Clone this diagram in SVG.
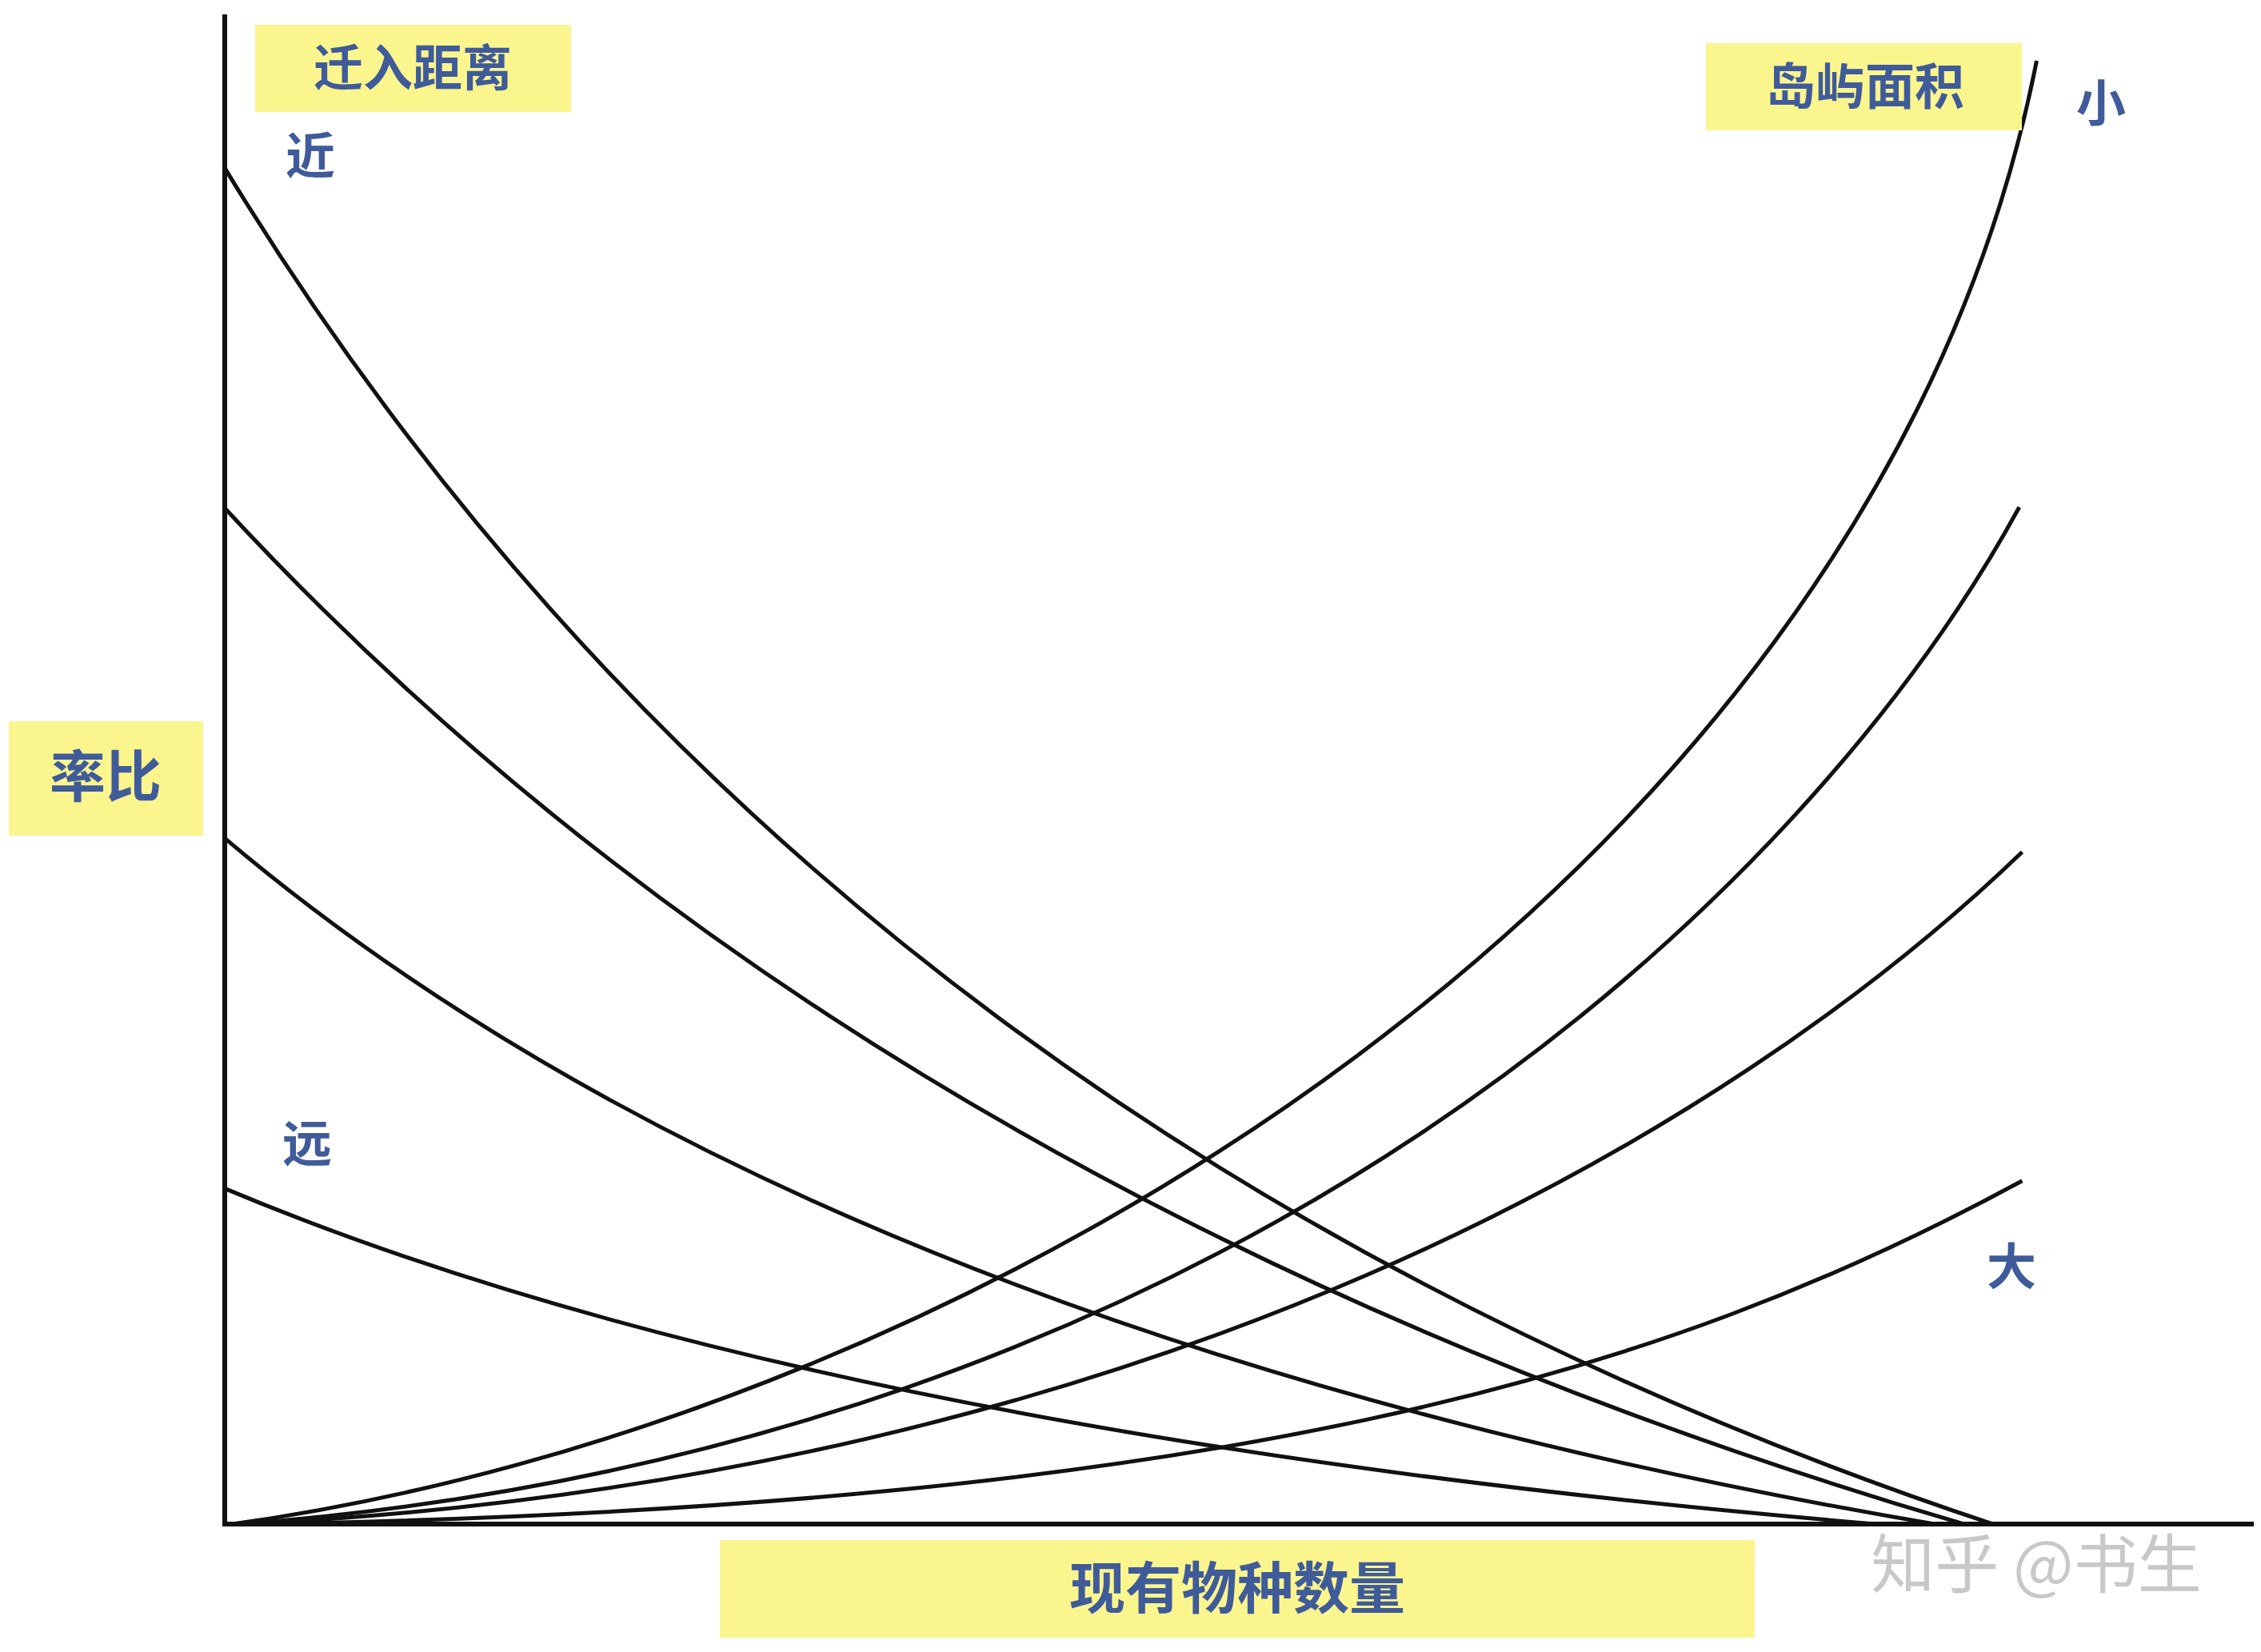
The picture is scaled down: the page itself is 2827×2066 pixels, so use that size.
<svg xmlns="http://www.w3.org/2000/svg" width="2827" height="2066" viewBox="0 0 2827 2066">
<style>
.box{fill:#fbf58e}
.lab{font-family:"Liberation Sans","Noto Sans CJK SC",sans-serif;font-weight:bold;fill:#3f5b9a;text-anchor:middle}
.c{fill:none;stroke:#111;stroke-width:5;vector-effect:non-scaling-stroke}
</style>
<rect width="2827" height="2066" fill="#fff"/>
<g id="axes">
<line x1="281" y1="18" x2="281" y2="1908" stroke="#111" stroke-width="6"/>
<line x1="278" y1="1906" x2="2818" y2="1906" stroke="#111" stroke-width="6"/>
</g>
<g id="connectors" transform="scale(1.806,1.812)">
<path class="c" d="M155,115 Q560,780 1380,1052"/>
<path class="c" d="M155,350 Q600,830 1360,1052"/>
<path class="c" d="M155,578 Q560,920 1340,1052"/>
<path class="c" d="M155,820 Q560,990 1300,1052"/>
<path class="c" d="M160,1052 C680,980 1300,600 1410,42"/>
<path class="c" d="M165,1052 C850,1000 1250,620 1398,350"/>
<path class="c" d="M170,1052 C800,1020 1200,780 1400,588"/>
<path class="c" d="M175,1052 C850,1040 1150,950 1400,815"/>
</g>
<g id="n1"><rect class="box" x="319" y="31" width="395" height="109"/><text class="lab" x="516" y="108" font-size="62">迁入距离</text></g>
<g id="n2"><rect class="box" x="2133" y="54" width="395" height="109"/><text class="lab" x="2332" y="131" font-size="62">岛屿面积</text></g>
<g id="n3"><rect class="box" x="11" y="902" width="243" height="143"/><text class="lab" x="132" y="997" font-size="70">率比</text></g>
<g id="n4"><rect class="box" x="900" y="1926" width="1294" height="122"/><text class="lab" x="1547" y="2012" font-size="70">现有物种数量</text></g>
<g id="n5"><text class="lab" x="388" y="218" font-size="62">近</text></g>
<g id="n6"><text class="lab" x="384" y="1453" font-size="62">远</text></g>
<g id="n7"><text class="lab" x="2627" y="152" font-size="62">小</text></g>
<g id="n8"><text class="lab" x="2515" y="1607" font-size="62">大</text></g>
<g id="wm"><text x="2546" y="1985" font-size="80" font-family="'Noto Sans CJK SC',sans-serif" fill="#c8c8c8" text-anchor="middle">知乎 @书生</text></g>
</svg>
